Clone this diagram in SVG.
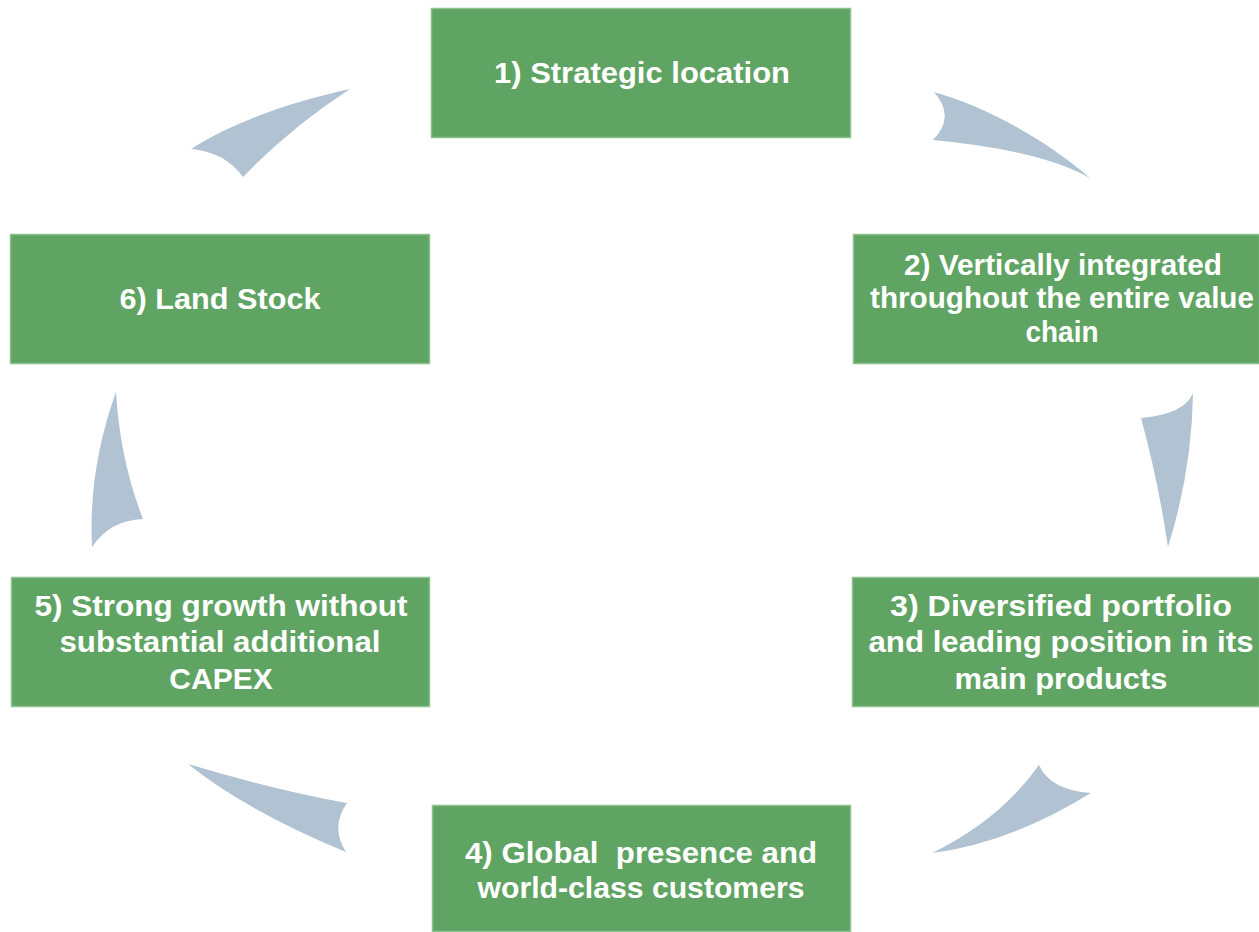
<svg xmlns="http://www.w3.org/2000/svg" width="1259" height="932" viewBox="0 0 1259 932">
<style>
.box{fill:#60A463;stroke:#8CC28E;stroke-width:1.5}
.t{font-family:"Liberation Sans",Arial,sans-serif;font-weight:bold;font-size:30px;fill:#FFFFFF;text-anchor:middle;white-space:pre}
.arr{fill:#B1C3D2;stroke:none}
</style>
<rect width="1259" height="932" fill="#FFFFFF"/>
<g id="connectors">
<path class="arr" d="M350,89 C300,100 240,118 191,149 Q225,152 243,177 Q290,128 350,89 Z"/>
<path class="arr" d="M934,92 Q956,117 933,140 Q1040,150 1090,178 C1040,135 980,105 934,92 Z"/>
<path class="arr" d="M1193,393 Q1185,414 1141,418 Q1158,480 1168,547 Q1192,470 1193,393 Z"/>
<path class="arr" d="M1039,765 Q1050,790 1091,793 Q1010,843 932,853 Q1000,820 1039,765 Z"/>
<path class="arr" d="M347,803 Q330,827 346,852 Q245,810 188,764 Q275,790 347,803 Z"/>
<path class="arr" d="M116,392 Q88,470 92,547 Q110,520 143,519 Q120,460 116,392 Z"/>
</g>
<g id="node1">
<rect class="box" x="431.5" y="8.5" width="419" height="129"/>
<text class="t" x="642" y="83" textLength="296" lengthAdjust="spacingAndGlyphs">1) Strategic location</text>
</g>
<g id="node2">
<rect class="box" x="853.5" y="234.5" width="406" height="129"/>
<text class="t" x="1063" y="275" textLength="318" lengthAdjust="spacingAndGlyphs">2) Vertically integrated</text>
<text class="t" x="1062" y="308" textLength="384" lengthAdjust="spacingAndGlyphs">throughout the entire value</text>
<text class="t" x="1062" y="342" textLength="73" lengthAdjust="spacingAndGlyphs">chain</text>
</g>
<g id="node3">
<rect class="box" x="852.5" y="577.5" width="407" height="129"/>
<text class="t" x="1061" y="616" textLength="342" lengthAdjust="spacingAndGlyphs">3) Diversified portfolio</text>
<text class="t" x="1061" y="652" textLength="385" lengthAdjust="spacingAndGlyphs">and leading position in its</text>
<text class="t" x="1061" y="689" textLength="213" lengthAdjust="spacingAndGlyphs">main products</text>
</g>
<g id="node4">
<rect class="box" x="432.5" y="805.5" width="418" height="126"/>
<text class="t" x="641" y="863" textLength="352" lengthAdjust="spacingAndGlyphs">4) Global  presence and</text>
<text class="t" x="641" y="898" textLength="327" lengthAdjust="spacingAndGlyphs">world-class customers</text>
</g>
<g id="node5">
<rect class="box" x="11.5" y="577.5" width="418" height="129"/>
<text class="t" x="221" y="616" textLength="373" lengthAdjust="spacingAndGlyphs">5) Strong growth without</text>
<text class="t" x="220" y="652" textLength="321" lengthAdjust="spacingAndGlyphs">substantial additional</text>
<text class="t" x="221" y="689">CAPEX</text>
</g>
<g id="node6">
<rect class="box" x="10.5" y="234.5" width="419" height="129"/>
<text class="t" x="220" y="309" textLength="201" lengthAdjust="spacingAndGlyphs">6) Land Stock</text>
</g>
</svg>
